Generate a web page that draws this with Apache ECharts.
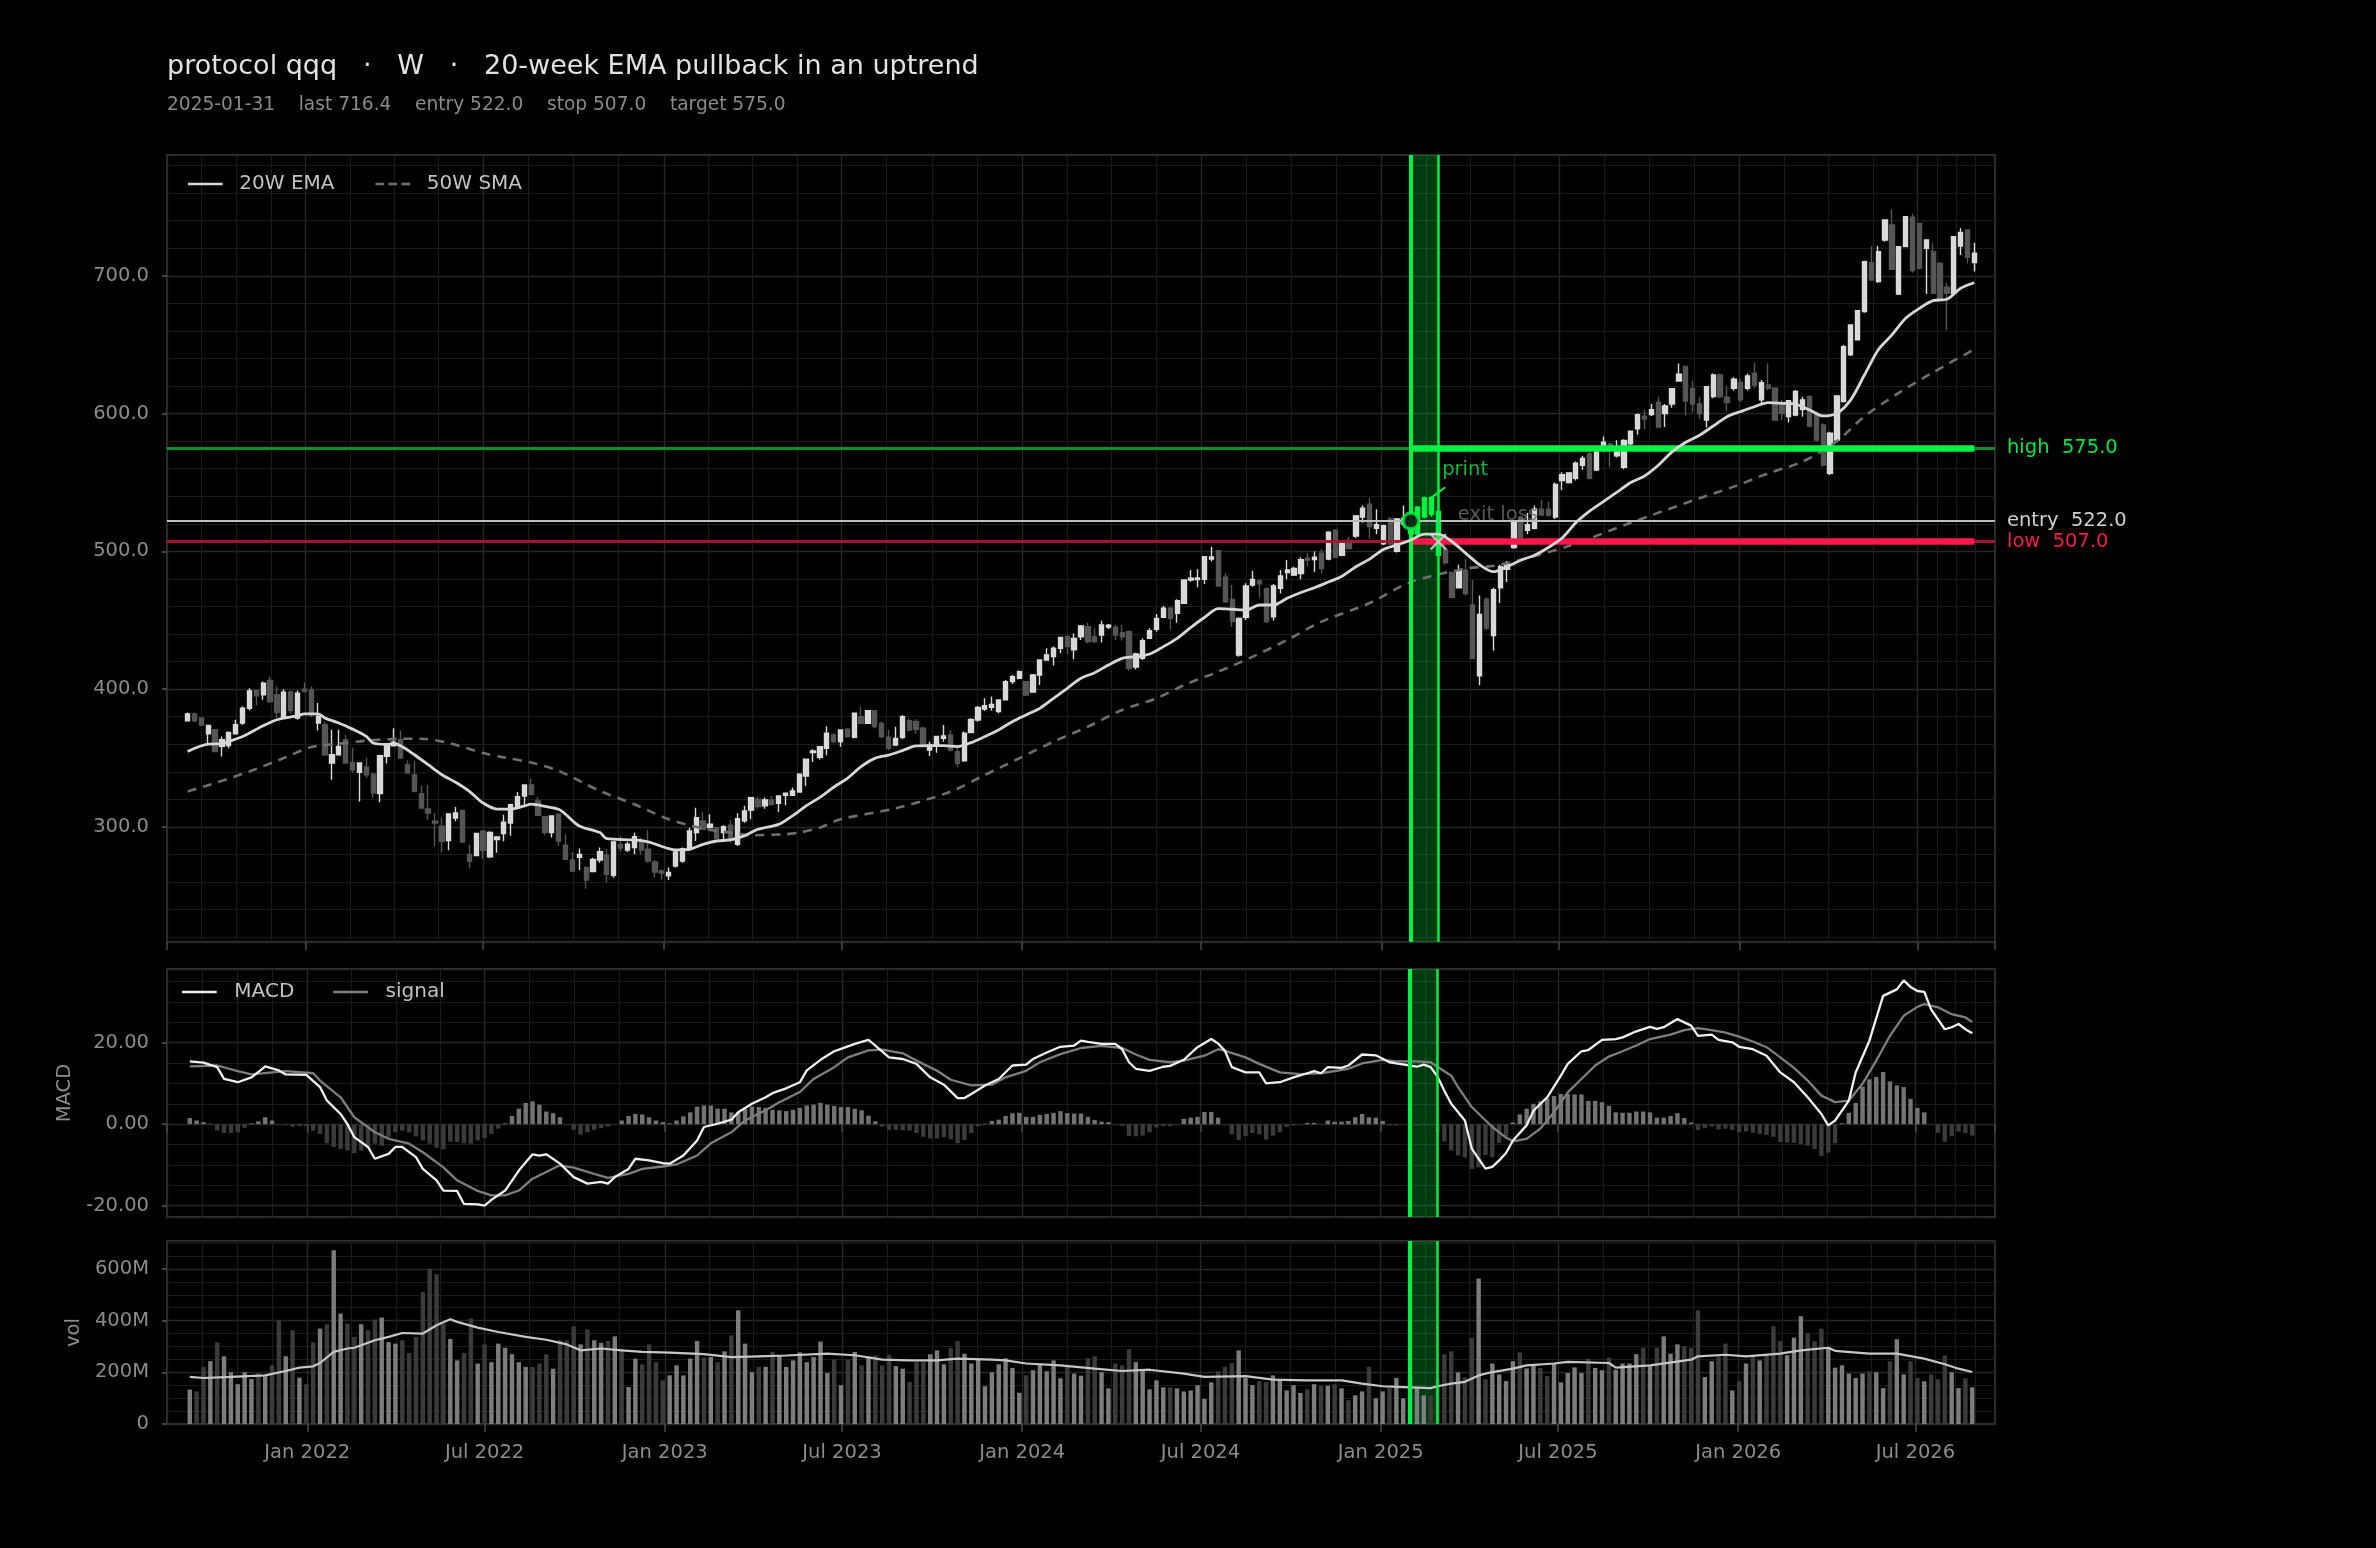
<!DOCTYPE html>
<html><head><meta charset="utf-8">
<script src="https://cdn.jsdelivr.net/npm/echarts@6.0.0/dist/echarts.min.js"></script>
<style>html,body{margin:0;padding:0;background:#000;}#chart{width:2376px;height:1548px;}</style>
</head><body><div id="chart"></div>
<script>
// ---------------- data (weekly bars, Fridays) ----------------
const firstWeek = '2021-09-03';
const opens = [377,382.1,379.2,367.6,370.5,358.5,359,367.6,375.4,386.2,
399,395.9,406.3,395.9,379.7,398,379,400,399.5,375.4,
374.2,346.4,352.4,363.3,346.9,339.6,343.5,338.2,324.2,351.2,
358.9,363.3,345.2,337.9,324.2,313,304.1,300.5,290.1,306.5,
311.8,280,279.2,296.9,278.3,290.9,295.2,302.9,314,322.5,
330.5,318.9,307.5,295.9,309.2,286.7,276,278,270.5,267.6,
276,279.4,264.9,287.2,283.3,285,289.1,283.8,274.6,268,
264.5,271.7,275.3,283.8,295.9,304.4,299.5,299.5,295.9,301.2,
287.4,304.4,312.3,320.1,315.3,319.6,317.2,323,323,325.4,
337,354,350.6,357,366.8,362,370.9,365,380,375.2,
384.4,375.2,365.1,359.5,365.1,377.2,376.4,371.6,355.9,358.8,
364.3,366.8,354.7,348.1,368.5,377.6,385.6,386.8,383.7,392.2,
405.5,407.9,405.5,398,410.3,421.2,423.6,429.7,438.1,428.5,
438.1,445.4,438.1,439.3,445,444.9,441,441.7,416,422.4,
436.9,443.4,452.1,458.7,455.1,462.3,479.2,479.5,479.7,494.5,
500.5,481.2,465.2,424.8,452.1,475.6,478.6,473,452.6,473.2,
484.6,482.9,484,495,494,498.6,494.4,515.3,497.2,508,
511.1,525,534.2,516.7,505.6,523.6,500,520,513,512.5,
525,539,529,501.4,484.7,473.6,486.1,461.1,409.7,465.3,
438.9,473.6,487,502.8,525,515.3,516.7,530.6,530.6,525,
551.4,550,553,562.5,570.8,559,576.4,578,569.4,561.1,
578,589,598.2,599.3,608.3,600.1,606.9,623.6,634.2,618,
607,595.4,612.3,628,612,618.4,622.5,618.4,629.3,610,
620.8,618.4,606.3,597.8,599,603,612.3,600.2,591.8,556.7,
580.9,608.7,642.6,653.5,674,709.6,695.8,726,736.9,686.8,
721.2,742.5,738,720,717.6,709,691.7,687.3,721.7,733.3,
709.6];
const closes = [382.1,377.1,373.9,373.7,354.8,363.3,368.6,374.2,386.2,398.8,
395.2,404.3,391.1,383.1,397.8,384.5,397.1,398.5,381.4,380.2,
352.4,352.4,358.5,346.4,341.5,346.4,337.9,324.6,351.7,360.4,
361.6,350,339.1,325.8,313.8,310.1,302.9,289.6,309.4,310.1,
289.1,275.1,295.2,283.1,296.1,292.8,303.4,316.2,322,330.5,
323.7,308.5,295.9,308,289.8,276.5,268,280,261.5,276.5,
282.1,265.6,289.1,284.7,287.4,293,283.3,275.3,267.3,266.5,
267,281.8,284.3,297.1,306.8,298.3,302,291.5,300.2,291,
306,311.6,321.3,314.8,319.6,316.5,322.5,324.5,326.1,338.3,
349.2,355.2,358.3,368,362,370.4,365.6,382.5,375.2,384.4,
372.8,365.6,357.1,364.3,380.1,370.4,370.9,359.5,359.5,365.6,
366,355.9,346.2,368,378.1,386.8,388,389,392.2,405.5,
409.1,412.7,395.8,410.3,421.2,424.8,429.7,437.6,430.9,436.9,
445.9,434.5,434.5,446.6,446.4,439.3,438.1,415.1,425.5,435.2,
442.5,451.4,458.7,451.4,464.2,479.2,480.5,480.7,496.2,496,
474.9,463.5,449,451.4,474.9,479.7,476.4,449,474.9,482.2,
486.5,487.7,494,493.7,495.7,487.5,513.9,495.8,506.4,502,
525.8,531.4,518,519.4,518.6,505.6,523.6,524,522,532,
538.9,527,497.2,491.7,466.7,486.1,469.4,422.2,454.2,444.4,
472.2,488.9,490.8,520.8,509.7,519.4,530.6,526.4,526.4,548.6,
555.6,557,564,567.5,553,572.2,579.2,576,572.2,580.6,
587.2,599.3,596,602.8,590.3,605.6,618,628.6,609.2,607,
600,619.6,628,612.3,608,624.9,610,627.3,620.8,622.5,
618.4,595.4,600.2,609.4,616,610,591,580.9,562.7,585.7,
612.8,648.6,664.3,674.7,710.3,697,717.6,740.5,704.7,721.2,
743,703.8,705.5,726,687.3,683.7,687.3,728.4,731.4,713.5,
716.4];
const highs = [383,383,379.5,373.9,371,365.7,369.3,377.8,387.4,400.7,
399.5,405.6,409.2,401.9,400,399,399,404.8,401.9,389.9,
376.6,370.5,370.5,366.9,357.7,346.9,350.2,339.1,352.4,360.4,
371.7,370,348.3,348.3,330,330.7,310.1,306.5,309.4,314.5,
312.6,287.2,295.7,297.6,296.9,293.3,308.9,316.9,325.4,331,
335.1,322,308,308.5,309.2,294.7,281.8,284.3,271.7,277.7,
285,283.8,289.8,293.5,289.1,295.9,292.3,297.8,276,269.2,
270.5,282.6,285,299.5,314,310.9,309.2,300.2,301.2,304.8,
309.9,315.3,322,322,321.3,322.5,323,325,328.6,339,
349.6,356.4,358.8,373,368,370.9,371.6,383,387.3,384.9,
384.9,376.4,370.4,372.8,381.3,378.9,378.1,372.8,361.9,366,
374,370.4,358.3,369.2,378.9,387.8,393.4,394.6,392.6,406.7,
410.3,413.5,406,411,421.7,429.7,430.9,438.1,439.3,440.5,
446.6,448.3,444.2,449.7,447.3,446.6,446.6,442.5,426.4,436.9,
444.2,454.5,460.4,459.9,465.2,479.7,486.5,487,496.7,503.3,
501,484.1,475.6,452.1,476.8,486,480,473.7,476.4,486.5,
493.7,488.9,495.7,499,500,501.9,514.7,515.8,506.9,510.3,
526.4,533.3,538.9,530.6,519.4,525,524.2,533.3,530,533,
539.7,540.3,529.2,505.6,484.7,490.3,494.4,479.2,468,466.7,
473.6,490.3,493,521.4,525.6,527.8,533.3,537.5,536.1,550,
557.5,557.5,565.3,569.4,572.2,573.6,583.3,578.9,580.6,581.4,
587.8,600.1,602.8,606.9,612.5,606.9,618.6,636.4,634.7,624,
612,619.6,629.2,629.2,619.6,626.4,624.9,629.2,637,624.4,
636.5,619.1,609.9,609.9,617.2,612.3,613.5,601.5,593,586.9,
613.5,649.8,664.3,675.2,711,721.7,721.7,741,748.3,721.7,
743.5,745,738,726,724.1,710.3,695,728.4,734.6,733.8,
724.1];
const lows = [376.5,376,373,360.9,354.5,351.2,357.2,367.6,374.2,384.5,
388.4,392.3,389.9,379,378.3,382.1,377.8,397.6,379.7,370,
351.7,334.3,351.7,345.9,339.6,318.4,335.5,320.8,317.9,346,
358.5,349.3,338.6,325.1,313.8,305.3,286,281.2,283.1,304.1,
288.4,270.3,278.7,276.8,277.5,281.2,289.6,293.7,313.3,315.3,
323,308,293.9,292.3,286.2,276.5,267.3,268.8,255.2,267.3,
274.1,259.6,263.2,281.8,281.8,280.1,280.1,274.1,263.2,261.3,
261.5,270.5,274.1,282.6,289.8,297.8,299,291,289.8,288.1,
286.2,303.1,305.6,313.3,313.3,315.3,310.9,315.7,322.5,324.9,
329.8,347.2,349,352,360.8,358.3,364.8,364.3,375.2,374.7,
371.6,364.3,355.4,358.8,363.6,369.2,367.5,358.3,351.5,353.9,
361.9,354.7,343.3,347.4,368,376.4,384.4,384.4,382.5,391.7,
403.8,407.2,395.1,397.5,403.1,420.7,417.2,426.1,425.5,421.7,
435.7,433.3,433.3,433.8,443.7,435.7,435.4,413.4,414.2,421.2,
436.2,441.7,451.4,443.4,448.3,461.8,478,474,476.4,492.8,
474.4,462.8,445.2,423.6,450.2,474.4,466.7,448.3,449.9,469.4,
479.7,482.2,479.7,489,485,484.2,493.6,495.8,496.4,501.4,
509.7,520.8,509.2,512.5,504.7,504.7,499.2,518,508,510,
524,525,497,490.3,465.8,473,468,422.2,402.8,443,
427.8,462.5,477.8,502,508.3,512.5,515.8,525.8,525,523.6,
544.4,549.2,551.4,559.2,552.2,558.3,572.2,561.1,568.1,559.7,
576.4,584.7,588.9,598.2,589.7,590.3,604.2,623.1,598.6,601,
596,590,611.1,611.1,601.5,616.7,608.7,616.7,618.4,607.5,
617.2,594.9,595.4,593.6,598.1,597.8,590.1,579.7,561.5,555.5,
579.7,608,641.8,653.5,673.2,697,695,724.8,704.2,686.1,
720.7,702.3,704.7,686.8,686.8,683,660.7,686.1,715.2,708.9,
703.1];
// weekly volume, millions
const volumeM = [133,126,221,243,316,262,200,154,200,174,
196,185,227,401,262,363,179,154,316,369,
386,672,427,388,337,386,363,404,412,317,
311,324,275,337,511,601,579,388,329,246,
275,408,234,308,239,311,295,270,239,221,
221,234,270,214,324,324,378,308,366,324,
314,321,339,292,143,253,231,308,239,169,
188,227,188,253,321,257,259,239,281,343,
440,311,200,221,221,279,266,221,246,277,
239,259,319,197,249,150,249,279,227,262,
265,226,267,224,214,163,240,240,270,285,
231,294,321,272,234,252,146,200,231,254,
217,121,188,208,230,204,246,177,226,195,
187,255,262,200,138,234,227,289,239,208,
134,169,142,142,138,126,130,150,97,161,
204,221,236,285,178,150,166,163,188,172,
130,150,120,134,154,148,148,154,138,92,
111,126,221,99,126,139,178,99,185,137,
111,111,175,270,281,200,180,333,563,173,
234,192,166,243,277,215,230,217,185,234,
161,197,219,197,253,217,208,257,210,234,
234,270,295,227,295,339,272,308,301,295,
440,182,243,262,311,130,165,234,259,246,
266,378,321,266,334,417,350,320,369,298,
218,227,195,178,195,204,200,139,243,328,
192,243,178,165,192,173,265,200,139,177,
142];
const macdHist = [1.5,0.9,0.5,0.1,-1.6,-2.2,-2.2,-2,-0.9,0.2,
0.7,1.7,0.9,0,-0.2,-0.6,-0.5,-0.5,-1.6,-2.4,
-4.7,-5.6,-6.1,-6.5,-7.1,-6.5,-5.8,-4.8,-5.3,-3.2,
-2,-1.6,-2,-3,-4,-4.8,-5.8,-6.2,-4.3,-4.4,
-4.7,-4.8,-4,-3.4,-2.4,-1.1,0.2,2,3.8,5.2,
5.6,4.8,3.1,2.7,1.7,0,-1.4,-2.6,-2,-1.4,
-1,-0.6,0,0.9,2,2.5,2.4,1.7,0.9,0.5,
0.2,0.9,1.9,2.9,4.3,4.6,4.6,3.8,3.8,2.9,
2.9,3.8,4.3,4.2,4,3.5,3.4,3.2,3.5,4,
4.6,4.8,5.2,4.8,4.5,4.2,4.2,3.8,3.4,2.1,
0.7,-0.6,-1.4,-1.4,-1.5,-1.6,-2.2,-3.1,-3.5,-3.5,
-3.2,-3.7,-4.7,-3.9,-2.2,-0.5,0.1,0.8,1.1,2,
2.7,2.8,1.8,1.8,2.3,2.5,2.8,3.2,2.7,2.6,
2.6,1.8,1,0.6,0.5,0,-0.4,-2.9,-3,-2.8,
-2,-0.8,-0.5,-0.5,0,1.3,1.6,1.8,3,3,
1.6,0,-2.5,-3.9,-2.9,-2.2,-2.5,-3.8,-2.8,-2,
-0.7,-0.3,0,0.3,0.3,0,0.9,0.6,0.6,0.8,
1.7,2.5,1.7,1.6,0.8,-0.3,-0.3,0,0,-0.4,
0,0,-2,-4.3,-6.5,-7.7,-8.2,-11,-10.6,-7.6,
-8.1,-4.6,-3,0.4,2.4,3.8,5,5.6,6.4,6.9,
7.4,7.4,7.3,7.3,5.7,5.7,5.4,4.5,2.9,2.8,
2.8,3.1,3.1,2.9,1.6,1.6,2,2.7,1.5,0.4,
-1.4,-1,-0.6,-1.3,-1.1,-1.4,-2,-1.8,-2.1,-2.4,
-2.6,-3.1,-4.4,-4.5,-4.6,-4.9,-5.3,-6.1,-7.8,-7,
-4.7,0.2,2.8,5.2,9.2,11,11.6,12.8,10.5,9.5,
9.1,6.2,4,2.9,0,-2.1,-4.3,-2.9,-1.8,-2.2,
-2.8];
// indicator lines: [week index, value]
const ema20Pts = [[0,354.8],[3,360.1],[5,360.4],[6,362.1],[8,365.7],[11,373.4],[13,377.8],[16,380.7],[17,382.1],[19,382.1],[20,379],[22,375.4],[24,371],[26,365.7],[27,360.9],[29,359.9],[30,360.4],[31,358.9],[33,352.4],[35,345.2],[37,337.9],[39,332.4],[41,325.8],[43,317.4],[45,313],[47,313],[49,315.3],[50,316.5],[52,315],[54,312.8],[55,309.2],[57,300.7],[60,295.9],[61,291.5],[65,290.6],[67,289.1],[70,284.3],[71,283.3],[73,283.8],[75,287.4],[77,289.8],[79,290.6],[81,293.5],[83,298.3],[86,301.9],[88,308],[90,315.3],[92,321.5],[94,328.8],[96,335.3],[98,343.8],[100,349.8],[102,352.2],[104,355.4],[106,358.8],[108,359],[110,359],[112,358.3],[114,361.2],[116,365.6],[118,370.4],[120,376.4],[122,381.3],[124,386.1],[126,393.4],[128,400.6],[130,407.9],[132,412],[134,417.6],[136,422.4],[138,423.6],[140,425.5],[142,430.9],[144,436.9],[146,444.9],[148,452.2],[150,458.4],[152,458],[154,457.5],[156,461.1],[158,461.1],[160,466],[162,470.2],[164,473.7],[166,477.8],[168,482],[170,488.9],[172,494.4],[174,501.4],[176,504.7],[178,508.3],[180,512.5],[182,512.5],[184,507],[186,498.6],[188,490.3],[190,485.3],[192,488.9],[194,493.6],[196,497.2],[198,502.8],[200,509.7],[202,520.8],[204,529.2],[206,536.1],[208,543],[210,550],[212,554.7],[214,562.5],[216,572.2],[218,579.2],[220,584.3],[222,591],[224,597.8],[226,601.5],[228,605],[230,608],[232,607.5],[234,606.8],[236,602.7],[238,598.3],[240,600.2],[242,610],[244,628],[246,646.2],[248,657.1],[250,669.2],[252,676.4],[254,682],[256,683],[258,691],[260,695]];
const sma50Pts = [[0,325.8],[4,331.9],[9,340.3],[14,350],[18,358],[22,360.4],[26,362.6],[31,364],[34,364],[38,360.9],[43,353.6],[46,350.5],[50,346.7],[54,340.7],[60,326.1],[65,316.5],[70,305.6],[75,298.8],[79,295.9],[82,294],[87,294.7],[89,295.9],[92,299.5],[95,305.6],[103,313.5],[111,325.6],[116,337.7],[121,349.8],[126,361.9],[131,372.8],[136,384.9],[141,393.4],[145,403],[150,412.7],[155,423.6],[160,435.7],[165,449],[172,462.5],[178,477.8],[186,487.5],[191,490.3],[201,504],[210,520.8],[220,538.6],[225,547],[230,556.7],[235,565.2],[240,580],[244,598],[249,615],[254,630],[260,646.7]];
const macdPts = [[0,15.4],[2,15.1],[4,14],[5,11.1],[7,10.3],[9,11.5],[10,12.8],[11,14.2],[13,13.2],[14,12.2],[17,12.1],[19,9.1],[20,5.8],[22,2.5],[23,0],[24,-3.2],[26,-5.6],[27,-8.5],[29,-7.3],[30,-5.6],[31,-5.6],[33,-8.1],[34,-11],[36,-13.8],[37,-16.3],[39,-16.4],[40,-19.6],[42,-19.7],[43,-20],[44,-18.6],[46,-16.3],[48,-11.4],[50,-7.4],[51,-7.7],[52,-7.4],[54,-9.7],[56,-13],[58,-14.6],[60,-14.2],[61,-14.6],[62,-13],[64,-11],[65,-8.5],[67,-8.9],[69,-9.6],[70,-9.7],[72,-7.7],[74,-4],[75,-0.7],[77,0.1],[79,1.1],[80,2.9],[82,5],[84,6.6],[85,7.6],[87,8.8],[89,10.3],[90,13.2],[92,15.8],[94,17.9],[95,18.5],[97,19.7],[99,20.7],[100,19.3],[102,16.4],[104,16],[106,14.8],[108,11.5],[110,9.7],[112,6.4],[113,6.4],[114,7.4],[116,9.5],[118,11.1],[120,14.4],[122,14.6],[123,16],[125,17.6],[127,19],[129,19.3],[130,20.5],[131,20.2],[133,19.7],[135,19.7],[136,18.4],[137,15.2],[138,13.6],[140,13.1],[142,14.1],[143,14.3],[145,15.8],[146,17.4],[147,18.9],[149,20.9],[150,19.8],[151,18],[152,14],[154,12.7],[156,12.7],[157,10],[159,10.3],[161,11.5],[163,12.5],[164,13],[165,12.5],[166,14],[168,13.8],[169,14.4],[171,17.1],[173,16.9],[175,15.2],[176,14.9],[178,14.4],[179,14.1],[180,14.6],[181,14],[182,11.7],[183,8.2],[184,5],[186,0.9],[187,-6],[188,-8.5],[189,-10.9],[190,-10.5],[191,-8.9],[192,-7.1],[193,-4],[195,-0.3],[196,3.3],[198,6.6],[200,11.9],[201,14.8],[203,17.9],[204,18.2],[206,20.7],[208,20.9],[209,21.3],[211,22.8],[213,23.9],[214,23.4],[215,23.8],[217,25.8],[218,25],[219,24.2],[220,21.7],[222,22],[223,20.7],[225,20.1],[226,19],[228,18.4],[230,16.8],[232,12.7],[234,10.3],[236,6.6],[238,2.5],[239,-0.3],[240,0.9],[242,5.8],[243,12.7],[245,20.5],[247,31.5],[248,32.3],[249,33.1],[250,35.3],[251,33.7],[252,32.7],[253,32.5],[254,28.2],[256,23.3],[257,23.8],[258,24.6],[259,23.3],[260,22.3]];
const signalPts = [[0,14.2],[4,14.4],[7,13],[9,12.2],[14,13],[18,12.5],[19,10.7],[22,6.6],[24,1.7],[27,-2],[29,-3.6],[32,-4.8],[34,-6.9],[37,-10.6],[39,-13.8],[42,-16.4],[44,-17.5],[46,-17.5],[48,-16.3],[50,-13.4],[54,-10.1],[56,-10.7],[59,-12.2],[61,-13.2],[64,-12.2],[66,-11],[69,-10.4],[71,-9.9],[74,-7.7],[76,-4.7],[79,-2],[81,0.9],[84,3.4],[86,5.4],[89,7.9],[91,11.1],[94,14],[96,16.4],[99,18.1],[101,18.3],[104,17.4],[106,15.6],[109,13.1],[111,10.9],[114,9.5],[117,9.7],[119,11.5],[122,13.1],[124,15.2],[127,17.2],[130,18.7],[133,19.2],[136,18.7],[138,17.1],[140,15.8],[143,15.2],[145,15.6],[148,16.8],[150,18.4],[151,18],[154,16.4],[156,14.8],[159,12.7],[162,12.3],[165,12.5],[169,13.6],[171,14.9],[174,15.8],[176,15.4],[179,15.4],[181,15.2],[182,14.1],[184,11.9],[185,9.1],[187,4.2],[190,-0.7],[192,-3.3],[193,-4.2],[195,-3.6],[197,-1.1],[199,2.9],[201,7.8],[203,11.1],[205,14.4],[207,16.6],[209,17.9],[211,19.3],[213,20.9],[216,22],[218,23.1],[220,23.6],[222,23.1],[224,22.5],[226,21.5],[228,20.3],[230,18.9],[232,16.4],[234,13.8],[236,10.7],[238,7],[240,5.4],[242,5.8],[244,9.9],[246,15.6],[248,21.7],[250,26.6],[252,28.8],[253,29.5],[255,28.7],[257,27],[259,26.2],[260,25.1]];
const volMaPts = [[0,182],[2,178],[6,182],[11,188],[14,205],[16,218],[18,223],[19,236],[21,279],[23,292],[24,295],[27,324],[29,337],[31,352],[34,350],[36,382],[38,405],[39,395],[42,373],[45,356],[49,337],[52,326],[55,308],[57,285],[60,292],[63,285],[66,279],[70,276],[75,270],[79,259],[83,262],[87,265],[93,272],[97,266],[101,249],[105,246],[109,246],[112,253],[117,249],[119,246],[122,234],[127,227],[132,214],[136,205],[140,210],[145,195],[148,182],[154,185],[158,172],[163,169],[168,169],[171,156],[174,146],[177,143],[181,139],[182,146],[184,156],[186,163],[188,188],[190,201],[193,214],[195,227],[199,234],[201,240],[207,236],[208,218],[213,227],[219,249],[220,262],[224,268],[227,262],[232,272],[235,285],[239,295],[240,283],[245,272],[249,272],[253,253],[256,231],[258,214],[260,201]];
// trade annotation
const entryIdx = 178, exitIdx = 182;
const entryPrice = 522.0, stopPrice = 507.0, targetPrice = 575.0;
const printFrom = [181, 539], printTo = [183, 546.5];
const priceAxisTicks = [300,400,500,600,700];
const macdAxisTicks = [-20,0,20];
const volAxisTicks = [0,200,400,600];
const tickMonths = [0, 6]; // Jan, Jul

// ---------------- build ----------------
const DAY = 86400000, WEEK = 7 * DAY;
const t0 = Date.parse(firstWeek + 'T00:00:00Z');
const timeOf = i => t0 + i * WEEK;
const n = closes.length;
const tMin = timeOf(0) - 3 * WEEK, tMax = timeOf(n - 1) + 3 * WEEK;
const tEntry = timeOf(entryIdx), tExit = timeOf(exitIdx), tLast = timeOf(n - 1);
const MONTHS = ['Jan','Feb','Mar','Apr','May','Jun','Jul','Aug','Sep','Oct','Nov','Dec'];
const pad2 = v => (v < 10 ? '0' : '') + v;
const fmtDate = t => { const d = new Date(t); return d.getUTCFullYear() + '-' + pad2(d.getUTCMonth() + 1) + '-' + pad2(d.getUTCDate()); };

const FONT = "'DejaVu Sans', sans-serif";
const GREEN = '#00f244', GREEN_TXT = '#00e840', GREEN_DIM = '#08922c';
const RED = '#f7174b', RED_DIM = '#a3142f';
const UP = '#d9d9d9', DOWN = '#555555';
const AXIS_TXT = '#8c8c8c';
const BAND = 'rgba(0,255,70,0.23)';
const GRID_MAJOR = '#262626', GRID_MINOR = '#1b1b1b';
const FS = 19.5;

const toLine = pts => pts.map(([i, v]) => [timeOf(i), v]);

const candleData = closes.map((c, i) => {
  const item = { value: [timeOf(i), opens[i], c, lows[i], highs[i]] };
  if (i >= entryIdx && i <= exitIdx) item.itemStyle = { color: GREEN, color0: GREEN, borderColor: GREEN, borderColor0: GREEN };
  return item;
});
const volData = volumeM.map((v, i) => ({ value: [timeOf(i), v], itemStyle: { color: closes[i] >= opens[i] ? '#7d7d7d' : '#3b3b3b' } }));
const histData = macdHist.map((v, i) => ({ value: [timeOf(i), v], itemStyle: { color: v >= 0 ? '#737373' : '#3b3b3b' } }));

const grids = [
  { left: 167, top: 155, width: 1828, height: 787 },
  { left: 167, top: 969, width: 1828, height: 248 },
  { left: 167, top: 1241, width: 1828, height: 183 }
].map(g => Object.assign(g, { show: true, borderColor: '#333333', borderWidth: 2, backgroundColor: 'transparent', containLabel: false }));

const makeX = (gi, labels) => ({
  type: 'time', gridIndex: gi, min: tMin, max: tMax, splitNumber: 9,
  axisLine: { show: false },
  axisTick: { show: true, length: 8, lineStyle: { color: '#4a4a4a', width: 1.5 } },
  axisLabel: { show: labels, margin: 19, color: AXIS_TXT, fontSize: FS, fontFamily: FONT, showMinLabel: false, showMaxLabel: false,
    formatter: v => { const d = new Date(v); return tickMonths.indexOf(d.getUTCMonth()) >= 0 && d.getUTCDate() === 1 ? MONTHS[d.getUTCMonth()] + ' ' + d.getUTCFullYear() : ''; } },
  splitLine: { show: true, lineStyle: { color: GRID_MAJOR, width: 1.4 } },
  minorTick: { show: false, splitNumber: 4 },
  minorSplitLine: { show: true, lineStyle: { color: GRID_MINOR, width: 1.2 } }
});
const makeY = (gi, min, max, splitNumber, minorSplit, ticks, fmt, name, nameGap, showMin) => ({
  type: 'value', gridIndex: gi, min, max, splitNumber,
  name: name || '', nameLocation: 'middle', nameRotate: 90, nameGap: nameGap || 0,
  nameTextStyle: { color: AXIS_TXT, fontSize: FS, fontFamily: FONT },
  axisLine: { show: false },
  axisTick: { show: true, length: 5, lineStyle: { color: '#555', width: 1.5 } },
  axisLabel: { margin: 18, color: AXIS_TXT, fontSize: FS, fontFamily: FONT, showMinLabel: !!showMin, showMaxLabel: false,
    formatter: v => (ticks.indexOf(v) >= 0 ? fmt(v) : '') },
  splitLine: { show: true, lineStyle: { color: GRID_MAJOR, width: 1.4 } },
  minorTick: { show: false, splitNumber: minorSplit },
  minorSplitLine: { show: true, lineStyle: { color: GRID_MINOR, width: 1.2 } }
});

const vLines = () => ({
  silent: true, symbol: ['none', 'none'], animation: false, label: { show: false },
  data: [
    { xAxis: tEntry, lineStyle: { color: GREEN, width: 4, type: 'solid' } },
    { xAxis: tExit, lineStyle: { color: GREEN, width: 2.5, type: 'solid' } }
  ]
});
const bandArea = () => ({ silent: true, animation: false, itemStyle: { color: BAND }, data: [[{ xAxis: tEntry }, { xAxis: tExit }]] });
const levelLabel = (txt, color) => ({ show: true, position: 'end', formatter: txt, color, fontSize: FS, fontFamily: FONT, distance: 12 });

const series = [
  // ---- price panel
  { type: 'line', name: 'band0', xAxisIndex: 0, yAxisIndex: 0, data: [], z: 1, silent: true, markArea: bandArea() },
  { type: 'line', name: 'levels', xAxisIndex: 0, yAxisIndex: 0, data: [], z: 2, silent: true,
    markLine: { silent: true, symbol: ['none', 'none'], animation: false, data: [
      { yAxis: targetPrice, lineStyle: { color: GREEN_DIM, width: 3, type: 'solid' }, label: levelLabel('high  ' + targetPrice.toFixed(1), GREEN_TXT) },
      { yAxis: entryPrice, lineStyle: { color: '#bcbcbc', width: 2, type: 'solid' }, label: levelLabel('entry  ' + entryPrice.toFixed(1), '#d0d0d0') },
      { yAxis: stopPrice, lineStyle: { color: RED_DIM, width: 3, type: 'solid' }, label: levelLabel('low  ' + stopPrice.toFixed(1), RED) },
      [ { coord: [tEntry, targetPrice], lineStyle: { color: GREEN, width: 6.5, type: 'solid' }, label: { show: false } },
        { coord: [tLast, targetPrice], lineStyle: { color: GREEN, width: 6.5, type: 'solid' }, label: { show: false } } ],
      [ { coord: [tEntry, stopPrice], lineStyle: { color: RED, width: 6.5, type: 'solid' }, label: { show: false } },
        { coord: [tLast, stopPrice], lineStyle: { color: RED, width: 6.5, type: 'solid' }, label: { show: false } } ]
    ] } },
  { type: 'candlestick', name: 'price', xAxisIndex: 0, yAxisIndex: 0, z: 3, barWidth: 4.8,
    encode: { x: 0, y: [1, 2, 3, 4] }, data: candleData,
    itemStyle: { color: UP, color0: DOWN, borderColor: UP, borderColor0: DOWN, borderWidth: 1.4 } },
  { type: 'line', name: '50W SMA', xAxisIndex: 0, yAxisIndex: 0, z: 4, data: toLine(sma50Pts), symbol: 'none', smooth: 0.3,
    lineStyle: { color: '#6f6f6f', width: 2.6, type: [9, 7] }, itemStyle: { color: '#6f6f6f' } },
  { type: 'line', name: '20W EMA', xAxisIndex: 0, yAxisIndex: 0, z: 5, data: toLine(ema20Pts), symbol: 'none', smooth: 0.3,
    lineStyle: { color: '#d6d6d6', width: 2.8 }, itemStyle: { color: '#d6d6d6' } },
  { type: 'line', name: 'vlines0', xAxisIndex: 0, yAxisIndex: 0, data: [], z: 6, silent: true, markLine: vLines() },
  { type: 'scatter', name: 'marks', xAxisIndex: 0, yAxisIndex: 0, z: 10, silent: true,
    data: [
      { value: [tEntry, entryPrice], symbol: 'circle', symbolSize: 16, itemStyle: { color: '#000', borderColor: GREEN, borderWidth: 3.5 } },
      { value: [tExit, stopPrice], symbol: 'path://M1,0L5,4L9,0L10,1L6,5L10,9L9,10L5,6L1,10L0,9L4,5L0,1Z', symbolSize: 17,
        itemStyle: { color: '#dadada' },
        label: { show: true, formatter: 'exit loss', position: 'right', distance: 11, offset: [0, -27], color: '#6e6e6e', fontSize: FS, fontFamily: FONT } },
      { value: [timeOf(printTo[0]), printTo[1]], symbol: 'circle', symbolSize: 0.1, itemStyle: { color: 'transparent' },
        label: { show: true, formatter: 'print', position: 'top', align: 'left', distance: 7, offset: [-3, 0], color: GREEN_TXT, fontSize: FS, fontFamily: FONT } }
    ],
    markLine: { silent: true, symbol: ['none', 'none'], animation: false, label: { show: false },
      data: [[ { coord: [timeOf(printFrom[0]), printFrom[1]], lineStyle: { color: GREEN, width: 2, type: 'solid' } },
               { coord: [timeOf(printTo[0]), printTo[1]], lineStyle: { color: GREEN, width: 2, type: 'solid' } } ]] } },
  // ---- MACD panel
  { type: 'line', name: 'band1', xAxisIndex: 1, yAxisIndex: 1, data: [], z: 1, silent: true, markArea: bandArea() },
  { type: 'bar', name: 'hist', xAxisIndex: 1, yAxisIndex: 1, z: 2, barWidth: 4.4, data: histData },
  { type: 'line', name: 'signal', xAxisIndex: 1, yAxisIndex: 1, z: 3, data: toLine(signalPts), symbol: 'none',
    lineStyle: { color: '#7e7e7e', width: 2.3 }, itemStyle: { color: '#7e7e7e' } },
  { type: 'line', name: 'MACD', xAxisIndex: 1, yAxisIndex: 1, z: 4, data: toLine(macdPts), symbol: 'none',
    lineStyle: { color: '#efefef', width: 2.3 }, itemStyle: { color: '#efefef' } },
  { type: 'line', name: 'vlines1', xAxisIndex: 1, yAxisIndex: 1, data: [], z: 6, silent: true, markLine: vLines() },
  // ---- volume panel
  { type: 'bar', name: 'vol', xAxisIndex: 2, yAxisIndex: 2, z: 2, barWidth: 4.4, data: volData },
  { type: 'line', name: 'volma', xAxisIndex: 2, yAxisIndex: 2, z: 3, data: toLine(volMaPts), symbol: 'none',
    lineStyle: { color: '#c6c6c6', width: 2.2 } },
  { type: 'line', name: 'band2', xAxisIndex: 2, yAxisIndex: 2, data: [], z: 5, silent: true, markArea: bandArea(), markLine: vLines() }
];

const subtitle = [fmtDate(tEntry), 'last ' + closes[n - 1].toFixed(1), 'entry ' + entryPrice.toFixed(1),
  'stop ' + stopPrice.toFixed(1), 'target ' + targetPrice.toFixed(1)].join('    ');

const SOLID_ICON = 'path://M0,0H40V3H0Z';
const DASH_ICON = 'path://M0,0H10V3H0ZM15,0H25V3H15ZM30,0H40V3H30Z';
const legendBase = { orient: 'horizontal', padding: 0, itemWidth: 40, itemHeight: 2.6, itemGap: 41, selectedMode: false,
  textStyle: { color: '#c2c2c2', fontSize: 20, fontFamily: FONT, padding: [0, 0, 0, 9] } };

const option = {
  backgroundColor: '#000000',
  animation: false,
  useUTC: true,
  textStyle: { fontFamily: FONT },
  title: {
    left: 167, top: 53.5, padding: 0, itemGap: 15,
    text: 'protocol qqq   ·   W   ·   20-week EMA pullback in an uptrend',
    subtext: subtitle,
    textStyle: { color: '#e2e2e2', fontSize: 27, fontWeight: 'normal', fontFamily: FONT },
    subtextStyle: { color: '#8a8a8a', fontSize: 18.6, fontFamily: FONT }
  },
  legend: [
    Object.assign({}, legendBase, { left: 188, top: 174, data: [{ name: '20W EMA', icon: SOLID_ICON }, { name: '50W SMA', icon: DASH_ICON }] }),
    Object.assign({}, legendBase, { left: 182, top: 982, itemWidth: 42, itemGap: 39, data: [{ name: 'MACD', icon: SOLID_ICON }, { name: 'signal', icon: SOLID_ICON }] })
  ],
  grid: grids,
  xAxis: [makeX(0, false), makeX(1, false), makeX(2, true)],
  yAxis: [
    makeY(0, 216.5, 787.7, 5, 5, priceAxisTicks, v => v.toFixed(1)),
    makeY(1, -22.8, 38.1, 3, 4, macdAxisTicks, v => v.toFixed(2), 'MACD', 84),
    makeY(2, 0, 708, 4, 4, volAxisTicks, v => (v === 0 ? '0' : v + 'M'), 'vol', 83, true)
  ],
  series
};

const chart = echarts.init(document.getElementById('chart'), null, { renderer: 'canvas', width: 2376, height: 1548 });
chart.setOption(option);
</script></body></html>
